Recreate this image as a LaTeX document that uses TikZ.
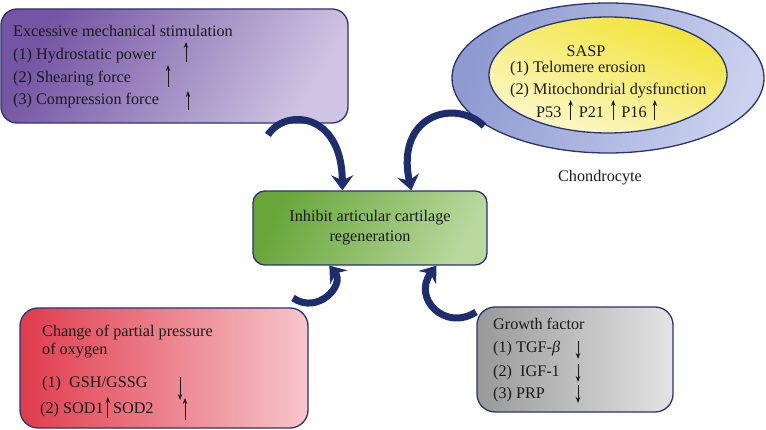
\documentclass[tikz,border=0pt]{standalone}
\usepackage{fontspec}
\setmainfont{Liberation Serif}
\usetikzlibrary{arrows.meta,calc,shapes.geometric}
\definecolor{navy}{HTML}{2B3270}
\definecolor{arrowc}{HTML}{1E2D6E}
\definecolor{textc}{HTML}{1A1A1A}
\definecolor{purpleA}{HTML}{7455A3}
\definecolor{purpleB}{HTML}{CEC3E2}
\definecolor{greenA}{HTML}{68A63A}
\definecolor{greenB}{HTML}{B8D89D}
\definecolor{redA}{HTML}{E03C4D}
\definecolor{redB}{HTML}{F7C6CB}
\definecolor{greyA}{HTML}{999999}
\definecolor{greyB}{HTML}{E4E4E4}
\definecolor{cellA}{HTML}{8E9AD0}
\definecolor{cellB}{HTML}{CBD2EE}
\definecolor{yolkA}{HTML}{F2E335}
\definecolor{yolkB}{HTML}{FBF7CC}
\begin{document}
\begin{tikzpicture}[x=1pt,y=-1pt,
  font=\fontsize{16.2}{19}\selectfont,
  box/.style={draw=navy, line width=1.3pt, rounded corners=16pt, inner sep=0pt},
  txt/.style={inner sep=0pt, text=textc, anchor=base west},
  ctxt/.style={inner sep=0pt, text=textc, anchor=base},
  up/.style={line width=1pt, draw=textc, -{Stealth[length=6pt,width=4.5pt]}},
  bigarrow/.style={draw=arrowc, line width=7pt, -{Stealth[length=15pt,width=22pt,inset=5pt]}}]
\useasboundingbox (0,0) rectangle (766,430);

% boxes
\node[box, minimum width=347pt, minimum height=114pt, left color=purpleA, right color=purpleB, shading angle=60] (purple) at (174.5,66) {};
\node[box, rounded corners=12pt, minimum width=234pt, minimum height=74pt, left color=greenA, right color=greenB, shading angle=65] (green) at (370,228) {};
\node[box, rounded corners=18pt, minimum width=288pt, minimum height=120pt, left color=redA, right color=redB] (red) at (164,368) {};
\node[box, rounded corners=18pt, minimum width=196pt, minimum height=105pt, left color=greyA, right color=greyB] (grey) at (575,359.5) {};
\node[ellipse, draw=navy, line width=1.3pt, inner sep=0pt, minimum width=312pt, minimum height=150pt, left color=cellA, right color=cellB, shading angle=70] (cell) at (608,78) {};
\node[ellipse, draw=navy, line width=1.3pt, inner sep=0pt, minimum width=238pt, minimum height=116pt, top color=yolkA, bottom color=yolkB, shading angle=-20] (yolk) at (608,75) {};

% purple texts
\node[txt] (p0) at (13,37) {Excessive mechanical stimulation};
\node[txt] (p1) at (13,60) {(1) Hydrostatic power};
\node[txt] (p2) at (13,83) {(2) Shearing force};
\node[txt] (p3) at (13,105) {(3) Compression force};
\draw[up] (186,62) -- (186,42);
\draw[up] (168,87) -- (168,65);
\draw[up] (188,110) -- (188,91);

% ellipse texts
\node[ctxt] (s0) at (586,57) {SASP};
\node[txt] (s1) at (510,73) {(1) Telomere erosion};
\node[txt] (s2) at (510,95) {(2) Mitochondrial dysfunction};
\node[txt] (s3) at (536,118) {P53};
\draw[up] ($(s3.base east)+(9,2)$) -- ++(0,-20);
\node[txt] (s4) at ($(s3.base east)+(17,0)$) {P21};
\draw[up] ($(s4.base east)+(9,2)$) -- ++(0,-20);
\node[txt] (s5) at ($(s4.base east)+(17,0)$) {P16};
\draw[up] ($(s5.base east)+(8,2)$) -- ++(0,-20);
\node[ctxt] (chondro) at (600,182) {Chondrocyte};

% green texts
\node[ctxt] (g1) at (370,222) {Inhibit articular cartilage};
\node[ctxt] (g2) at (370,242) {regeneration};

% red texts
\node[txt] (r0) at (42,337) {Change of partial pressure};
\node[txt] (r1) at (42,355) {of oxygen};
\node[txt] (r2) at (42,388) {(1)\ \ GSH/GSSG};
\node[txt] (r3) at (40,413) {(2) SOD1};
\draw[up] ($(r3.base east)+(4,5)$) -- ++(0,-21);
\node[txt] (r4) at ($(r3.base east)+(9,0)$) {SOD2};
\draw[up] (185,420) -- (185,398);
\draw[up] (180,377) -- (180,400);

% grey texts
\node[txt] (q0) at (493,330) {Growth factor};
\node[txt] (q1) at (493,353) {(1) TGF-\textit{β}};
\node[txt] (q2) at (493,377) {(2)\ \ IGF-1};
\node[txt] (q3) at (493,398) {(3) PRP};
\draw[up] (578,341) -- (578,359);
\draw[up] (578,364) -- (578,382);
\draw[up] (578,385) -- (578,403);

% big arrows
\coordinate (t1) at (268,135);
\coordinate (t2) at (484,126);
\coordinate (t3) at (293,298);
\coordinate (t4) at (476,312);
\draw[bigarrow] (t1) .. controls (285,108) and (342,112) .. ($(green.north west)+(90,0)$);
\draw[bigarrow] (t2) .. controls (455,98) and (395,115) .. ($(green.north west)+(159,0)$);
\draw[bigarrow] (t3) .. controls (318,315) and (345,285) .. ($(green.south west)+(77,0)$);
\draw[bigarrow] (t4) .. controls (445,332) and (412,298) .. ($(green.south west)+(184,0)$);
\end{tikzpicture}
\end{document}
